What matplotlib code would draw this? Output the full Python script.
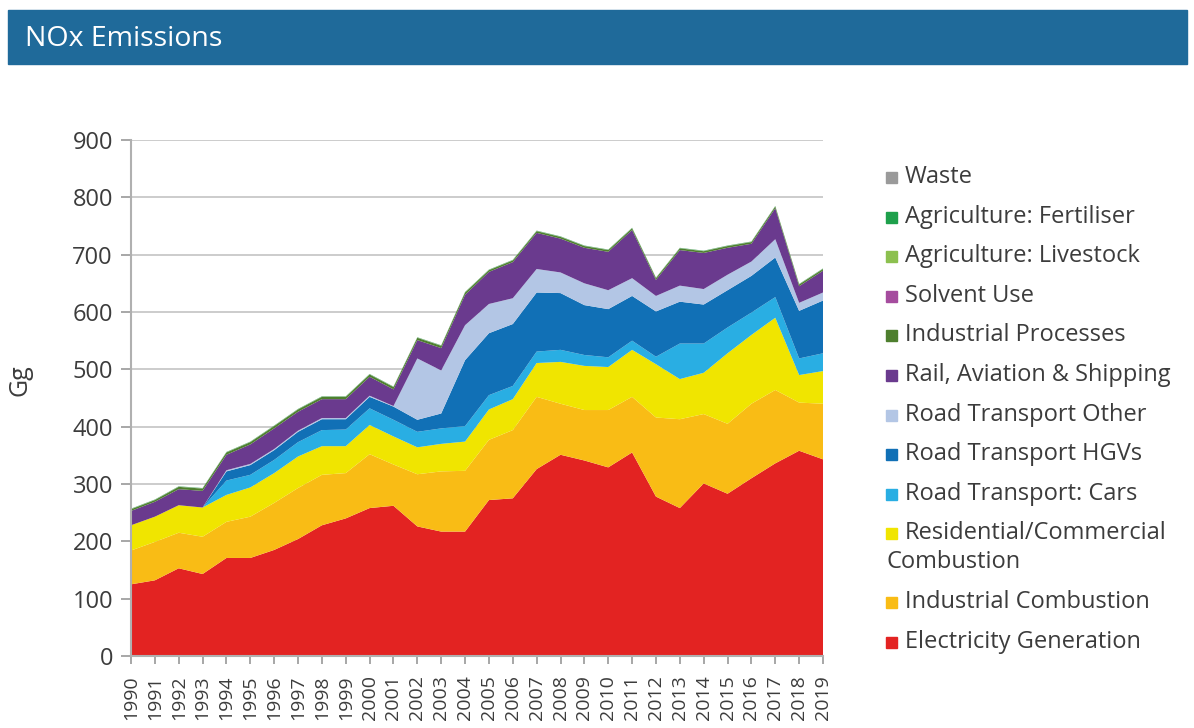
import matplotlib.pyplot as plt
from matplotlib.patches import Rectangle

plt.rcParams['font.family'] = ['Open Sans', 'DejaVu Sans']

years = list(range(1990, 2020))

# NOx emissions by source (Gg)
electricity = [125, 132, 153, 143, 171, 171, 185, 204, 228, 240, 258, 262, 226, 217, 217,
               272, 275, 326, 351, 341, 329, 355, 278, 258, 301, 283, 310, 336, 358, 343]
industrial_comb = [59, 67, 62, 65, 63, 72, 82, 89, 88, 79, 94, 72, 91, 105, 106,
                   105, 119, 126, 89, 88, 100, 97, 138, 155, 121, 122, 130, 128, 84, 97]
residential = [44, 44, 48, 51, 47, 51, 52, 55, 50, 47, 51, 49, 47, 48, 51,
               53, 54, 59, 73, 77, 75, 82, 93, 70, 72, 123, 120, 126, 48, 57]
road_cars = [0, 0, 0, 0, 25, 22, 23, 25, 28, 29, 29, 29, 27, 27, 27,
             25, 23, 20, 21, 19, 17, 16, 13, 62, 51, 45, 39, 36, 29, 31]
road_hgv = [0, 0, 0, 0, 16, 17, 17, 18, 19, 18, 20, 23, 21, 26, 115,
            108, 108, 103, 99, 87, 84, 78, 79, 73, 68, 65, 64, 69, 83, 92]
road_other = [0, 0, 0, 0, 2, 2, 2, 2, 2, 2, 2, 1, 107, 75, 61,
              51, 45, 41, 36, 38, 33, 31, 27, 28, 27, 27, 25, 32, 14, 14]
rail_aviation = [25, 26, 28, 29, 27, 34, 36, 33, 33, 33, 33, 29, 32, 39, 53,
                 56, 63, 63, 59, 62, 67, 84, 28, 62, 63, 47, 31, 54, 29, 38]
ind_processes = [3, 3, 4, 4, 4, 4, 4, 4, 4, 4, 4, 4, 4, 4, 4,
                 3, 3, 3, 3, 3, 3, 3, 3, 3, 3, 3, 3, 3, 3, 3]
solvent = [0.1] * 30
livestock = [0.3] * 30
fertiliser = [0.5] * 30
waste = [0.1] * 30

labels = ['Electricity Generation', 'Industrial Combustion',
          'Residential/Commercial\nCombustion', 'Road Transport: Cars',
          'Road Transport HGVs', 'Road Transport Other',
          'Rail, Aviation & Shipping', 'Industrial Processes', 'Solvent Use',
          'Agriculture: Livestock', 'Agriculture: Fertiliser', 'Waste']
colors = ['#E32322', '#F9BC15', '#F0E500', '#29AEE3', '#1170B6', '#B3C6E5',
          '#6A3A8E', '#4E7F2E', '#A54C9E', '#8CC04F', '#1EA04B', '#9A9A9A']
series = [electricity, industrial_comb, residential, road_cars, road_hgv, road_other,
          rail_aviation, ind_processes, solvent, livestock, fertiliser, waste]

W, H = 1194, 728
fig = plt.figure(figsize=(W / 100, H / 100), dpi=100)

# title banner
fig.patches.append(Rectangle((8 / W, 1 - 64 / H), 1179 / W, 54 / H,
                             transform=fig.transFigure, color='#1F6A9A', zorder=0))
fig.text(25 / W, 1 - 46 / H, 'NOx Emissions', color='white', fontsize=20.5,
         va='baseline', ha='left')

ax = fig.add_axes([131 / W, 1 - 656 / H, 692 / W, 516 / H])
ax.stackplot(years, *series, colors=colors, linewidth=0, zorder=3)

ax.set_xlim(1990, 2019)
ax.set_ylim(0, 900)
ax.set_yticks(range(0, 901, 100))
ax.set_xticks(years)
ax.set_xticklabels([str(y) for y in years], rotation=90)
ax.tick_params(axis='x', labelsize=14, colors='#a0a0a0', labelcolor='#3c3c3c',
               length=6, width=1.3, pad=8)
ax.tick_params(axis='y', labelsize=17, colors='#a0a0a0', labelcolor='#3c3c3c',
               length=7, width=1.3, pad=6)
ax.grid(axis='y', color='#c8c8c8', linewidth=1.3, zorder=0)
ax.set_axisbelow(True)
for side in ['top', 'right']:
    ax.spines[side].set_visible(False)
for side in ['left', 'bottom']:
    ax.spines[side].set_color('#b0b0b0')
    ax.spines[side].set_linewidth(1.5)
    ax.spines[side].set_zorder(5)
ax.set_ylabel('Gg', fontsize=18, color='#3c3c3c')
ax.yaxis.set_label_coords((33 - 131) / 692, 0.535)

# legend, drawn by hand so the wrapped line starts under the marker
baseline = 183
for lab, col in zip(labels[::-1], colors[::-1]):
    fig.patches.append(Rectangle((886 / W, 1 - baseline / H), 11 / W, 11 / H,
                                 transform=fig.transFigure, color=col))
    lines = lab.split('\n')
    fig.text(905 / W, 1 - baseline / H, lines[0], fontsize=17, color='#3c3c3c',
             va='baseline', ha='left')
    for extra in lines[1:]:
        baseline += 29
        fig.text(886 / W, 1 - baseline / H, extra, fontsize=17, color='#3c3c3c',
                 va='baseline', ha='left')
    baseline += 39.6

fig.savefig('out.png', dpi=100)
